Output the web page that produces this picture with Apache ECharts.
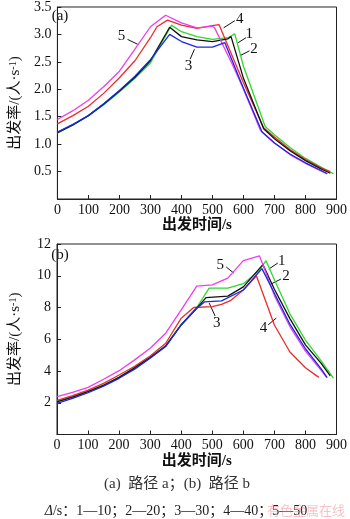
<!DOCTYPE html>
<html>
<head>
<meta charset="utf-8">
<script src="https://cdn.jsdelivr.net/npm/echarts@6/dist/echarts.min.js"></script>
<style>
  html, body { margin: 0; padding: 0; background: #fff; }
  #chart { width: 350px; height: 519px; }
</style>
</head>
<body>
<div id="chart"></div>
<script>
// departure rate vs departure time, two routes (a) and (b), 5 values of Δ

const xTicks = [0, 100, 200, 300, 400, 500, 600, 700, 800, 900]
const lineNames = ['1', '2', '3', '4', '5']
const lineColors = ['#111111', '#2fd82f', '#1a26e8', '#ee2a2a', '#ee3cee']
const drawOrder = [1, 3, 0, 4, 2]

// route a
const a1 = [[0,1.21],[50,1.35],[100,1.52],[150,1.73],[200,1.97],[250,2.22],[300,2.52],[362,3.13],[400,2.96],[450,2.9],[500,2.87],[550,2.92],[560,2.96],[600,2.2],[665,1.28],[700,1.1],[750,0.88],[800,0.7],[850,0.55],[880,0.47]]
const a2 = [[0,1.2],[50,1.35],[100,1.52],[150,1.72],[200,1.95],[250,2.2],[300,2.48],[368,3.17],[400,3.05],[450,2.96],[500,2.91],[550,2.94],[572,3.01],[600,2.42],[670,1.32],[700,1.17],[750,0.94],[800,0.74],[850,0.58],[890,0.46]]
const a3 = [[0,1.22],[50,1.36],[100,1.52],[150,1.74],[200,1.98],[250,2.24],[300,2.54],[362,3.0],[400,2.87],[450,2.77],[500,2.77],[540,2.85],[600,2.02],[660,1.22],[700,1.02],[750,0.82],[800,0.66],[850,0.52],[870,0.46]]
const a4 = [[0,1.37],[50,1.52],[100,1.69],[150,1.93],[200,2.21],[250,2.52],[300,2.94],[321,3.14],[355,3.26],[400,3.17],[450,3.11],[500,3.16],[521,3.18],[600,2.12],[665,1.3],[700,1.13],[750,0.9],[800,0.72],[850,0.57],[880,0.5]]
const a5 = [[0,1.45],[50,1.61],[100,1.8],[150,2.05],[200,2.33],[250,2.73],[300,3.14],[349,3.35],[400,3.21],[450,3.12],[500,3.15],[507,3.12],[567,2.42],[600,2.0],[655,1.25],[700,1.02],[750,0.81],[800,0.65],[850,0.51],[870,0.46]]

// route b
const b1 = [[0,2.06],[50,2.35],[100,2.7],[150,3.1],[200,3.6],[250,4.2],[300,4.85],[350,5.58],[400,6.9],[450,7.95],[480,8.62],[550,8.72],[600,9.3],[663,10.7],[700,9.15],[750,7.3],[800,5.65],[850,4.5],[880,3.7]]
const b2 = [[0,2.08],[50,2.37],[100,2.72],[150,3.12],[200,3.62],[250,4.2],[300,4.85],[350,5.6],[400,6.93],[450,8.0],[490,9.22],[550,9.22],[600,9.5],[650,10.3],[673,10.95],[700,9.75],[750,7.6],[800,5.95],[850,4.65],[890,3.55]]
const b3 = [[0,1.96],[50,2.27],[100,2.63],[150,3.05],[200,3.54],[250,4.12],[300,4.8],[350,5.54],[400,6.91],[450,7.95],[475,8.35],[530,8.42],[600,9.1],[660,10.45],[700,8.9],[750,6.95],[800,5.4],[850,4.15],[870,3.58]]
const b4 = [[0,2.15],[50,2.45],[100,2.8],[150,3.22],[200,3.75],[250,4.3],[300,4.95],[350,5.75],[400,7.33],[440,8.0],[500,8.05],[530,8.2],[560,8.45],[600,9.1],[642,10.0],[670,8.5],[700,6.9],[750,5.2],[800,4.2],[843,3.6]]
const b5 = [[0,2.38],[50,2.65],[100,2.97],[150,3.48],[200,4.02],[250,4.7],[300,5.43],[350,6.38],[400,7.85],[450,9.35],[500,9.42],[550,9.85],[600,10.95],[652,11.25],[665,10.6],[700,8.75],[750,6.8],[800,5.25],[850,4.05],[868,3.6]]

// curve labels: [text, textPos, leaderStart, leaderEnd] in data units
const aNotes = [
  ['5', [207, 2.97], [226, 2.91], [259, 2.82]],
  ['3', [423, 2.43], [428, 2.55], [442, 2.73]],
  ['4', [588, 3.28], [572, 3.25], [536, 3.12]],
  ['1', [619, 3.0], [608, 2.94], [583, 2.85]],
  ['2', [634, 2.73], [619, 2.70], [588, 2.61]]
]
const bNotes = [
  ['5', [526, 10.69], [545, 10.55], [569, 10.17]],
  ['1', [724, 10.9], [711, 10.8], [682, 10.42]],
  ['2', [737, 9.96], [721, 9.79], [690, 9.49]],
  ['3', [514, 7.01], [509, 7.47], [490, 8.28]],
  ['4', [665, 6.7], [680, 6.91], [706, 7.33]]
]

const serif = '"Liberation Serif", "Noto Sans CJK SC", serif'
const aLines = [a1, a2, a3, a4, a5]
const bLines = [b1, b2, b3, b4, b5]

function xAxisFor(gridIndex, gap) {
  return {
    type: 'value', gridIndex, min: 0, max: 900, interval: 100,
    name: '出发时间/s', nameLocation: 'middle', nameGap: gap,
    nameTextStyle: { fontFamily: serif, fontSize: 15, fontWeight: 'bold', color: '#111' },
    axisLine: { lineStyle: { color: '#222', width: 1 } },
    axisTick: { inside: true, length: 4, lineStyle: { color: '#222' } },
    axisLabel: { fontFamily: serif, fontSize: 14, color: '#111', margin: 4 },
    splitLine: { show: false }
  }
}

function yAxisFor(gridIndex, max, step, digits) {
  return {
    type: 'value', gridIndex, min: 0, max, interval: step,
    name: '出发率/(人·s{sup|-1})', nameLocation: 'middle', nameGap: 34, nameRotate: 90,
    nameTextStyle: {
      fontFamily: serif, fontSize: 15, color: '#111',
      rich: { sup: { fontFamily: serif, fontSize: 10, verticalAlign: 'top', color: '#111' } }
    },
    axisLine: { lineStyle: { color: '#222', width: 1 } },
    axisTick: { inside: true, length: 4, lineStyle: { color: '#222' } },
    axisLabel: {
      fontFamily: serif, fontSize: 14, color: '#111', margin: 6,
      formatter: function (v) { return v === 0 ? '' : v.toFixed(digits) }
    },
    splitLine: { show: false }
  }
}

const series = []
;[aLines, bLines].forEach(function (lines, g) {
  drawOrder.forEach(function (i) {
    series.push({
      type: 'line', name: lineNames[i], xAxisIndex: g, yAxisIndex: g,
      data: lines[i], symbol: 'none', smooth: false,
      lineStyle: { color: lineColors[i], width: 1.3 }
    })
  })
})

const chart = echarts.init(document.getElementById('chart'))
chart.setOption({
  animation: false,
  backgroundColor: '#fff',
  grid: [
    { left: 46, top: 6, width: 292, height: 193, show: true, borderColor: '#222', borderWidth: 1 },
    { left: 46, top: 244, width: 292, height: 190.5, show: true, borderColor: '#222', borderWidth: 1 }
  ],
  xAxis: [xAxisFor(0, 19), xAxisFor(1, 19)],
  yAxis: [yAxisFor(0, 3.5, 0.5, 1), yAxisFor(1, 12, 2, 0)],
  series
})

// labels drawn after layout so data coords can be turned into pixels
const graphics = []
;[aNotes, bNotes].forEach(function (notes, g) {
  notes.forEach(function (n) {
    const t = chart.convertToPixel({ gridIndex: g }, n[1])
    const p1 = chart.convertToPixel({ gridIndex: g }, n[2])
    const p2 = chart.convertToPixel({ gridIndex: g }, n[3])
    graphics.push({
      type: 'line', shape: { x1: p1[0], y1: p1[1], x2: p2[0], y2: p2[1] },
      style: { stroke: '#111', lineWidth: 1 }
    })
    graphics.push({
      type: 'text', x: t[0], y: t[1],
      style: { text: n[0], fontFamily: serif, fontSize: 15, fill: '#111', align: 'center', verticalAlign: 'middle' }
    })
  })
})

function text(x, y, str, size, fill, extra) {
  return {
    type: 'text', x, y,
    style: Object.assign({ text: str, fontFamily: serif, fontSize: size, fill, align: 'center', verticalAlign: 'middle' }, extra || {})
  }
}

graphics.push(text(60, 16, '(a)', 15, '#111'))
graphics.push(text(60, 255, '(b)', 15, '#111'))
graphics.push(text(177, 484, '(a)  路径 a；(b)  路径 b', 15, '#333'))
graphics.push(text(176, 511, '{i|Δ}/s：1—10；2—20；3—30；4—40；5—50', 14, '#222', {
  rich: { i: { fontFamily: serif, fontSize: 14, fontStyle: 'italic', fill: '#222' } }
}))
graphics.push(text(306, 512, '有色金属在线', 13, 'rgba(235,120,130,0.45)'))

chart.setOption({ graphic: graphics })
</script>
</body>
</html>
